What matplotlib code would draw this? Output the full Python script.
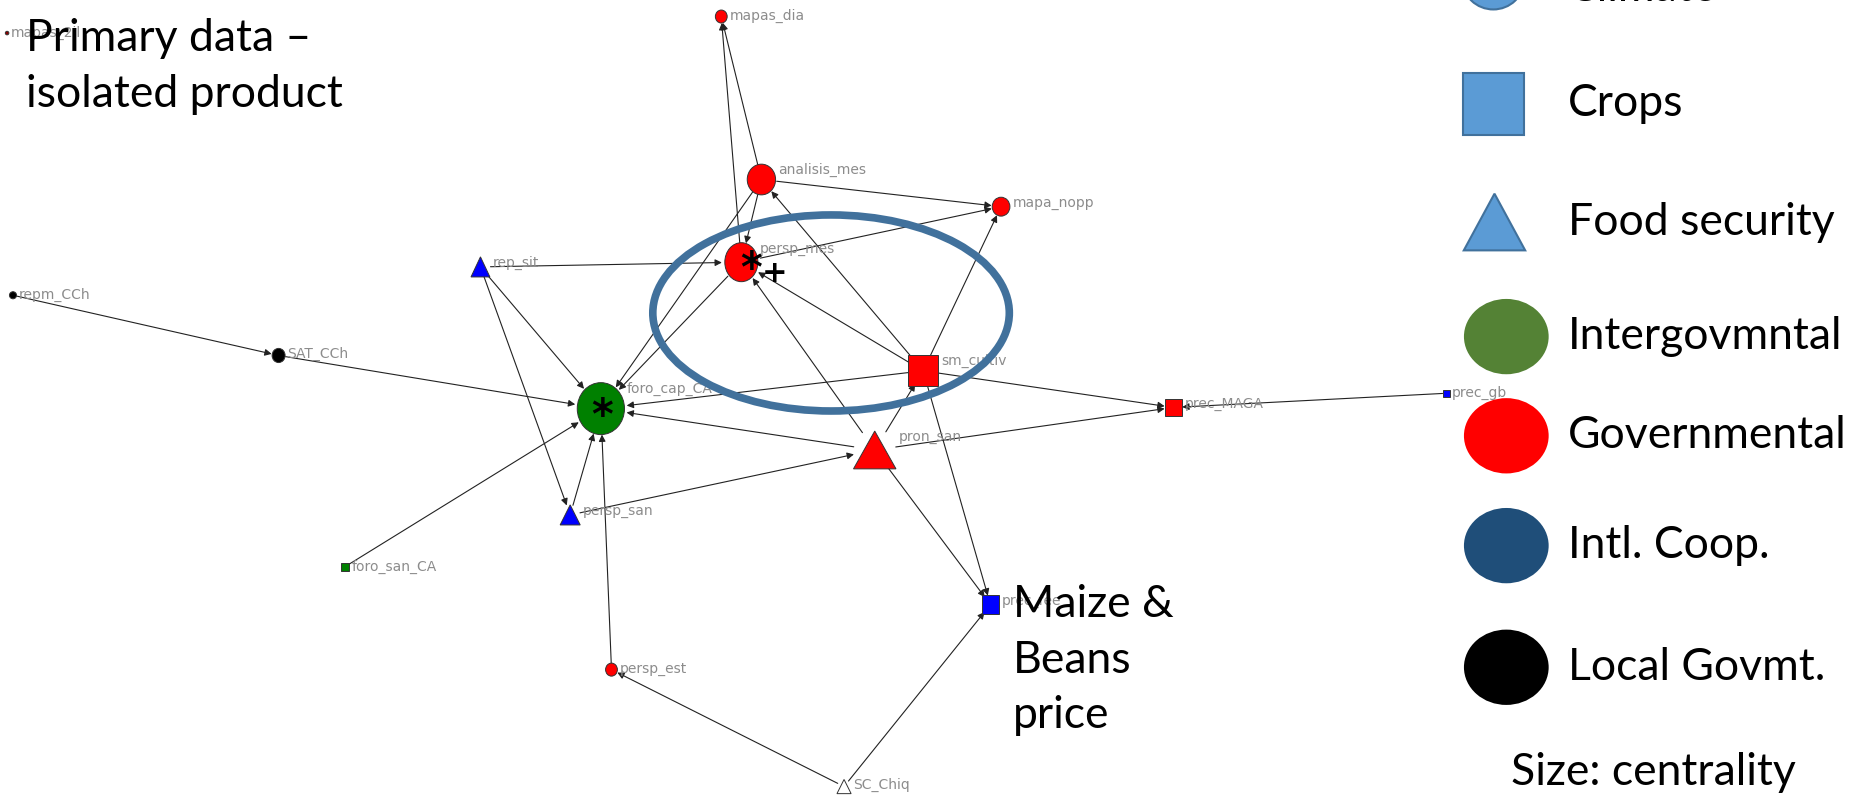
import matplotlib
matplotlib.use("Agg")
import matplotlib.pyplot as plt
from matplotlib.patches import Ellipse, Rectangle, Polygon, FancyArrowPatch

# Network data (layout positions, in picture pixels).

names = ['mapas_2il', 'mapas_dia', 'analisis_mes', 'mapa_nopp', 'persp_mes', 'rep_sit',
         'repm_CCh', 'SAT_CCh', 'foro_cap_CA', 'sm_cultiv', 'prec_MAGA', 'prec_gb',
         'pron_san', 'persp_san', 'foro_san_CA', 'prec_fee', 'persp_est', 'SC_Chiq']
node_x = [6, 611, 645, 848, 628, 407, 11, 236, 509, 782, 994, 1225, 741, 483, 292, 839, 518, 715]
node_y = [28, 14, 152, 175, 222, 226, 250, 301, 346, 314, 345, 333, 381, 436, 480, 512, 567, 666]
shapes = ['o', 'o', 'o', 'o', 'o', '^', 'o', 'o', 'o', 's', 's', 's', '^', '^', 's', 's', 'o', '^']
colors = ['#8b0000', 'red', 'red', 'red', 'red', 'blue', 'black', 'black', 'green', 'red', 'red', 'blue',
          'red', 'blue', 'green', 'blue', 'red', 'white']
widths = [3, 10, 24, 15, 28, 16, 6, 11, 40, 26, 15, 6, 36, 17, 7, 15, 10, 12]
heights = [3, 11, 26, 16, 33, 17, 6, 12, 44, 26, 15, 6, 32, 17, 7, 16, 11, 12]
starred = {'persp_mes': 8, 'foro_cap_CA': 1}

edges = [('repm_CCh', 'SAT_CCh'), ('SAT_CCh', 'foro_cap_CA'), ('foro_san_CA', 'foro_cap_CA'),
         ('rep_sit', 'foro_cap_CA'), ('rep_sit', 'persp_san'), ('rep_sit', 'persp_mes'),
         ('persp_san', 'foro_cap_CA'), ('persp_est', 'foro_cap_CA'), ('persp_mes', 'foro_cap_CA'),
         ('analisis_mes', 'foro_cap_CA'), ('sm_cultiv', 'foro_cap_CA'), ('pron_san', 'foro_cap_CA'),
         ('persp_san', 'pron_san'), ('pron_san', 'prec_MAGA'), ('sm_cultiv', 'prec_MAGA'),
         ('prec_gb', 'prec_MAGA'), ('pron_san', 'sm_cultiv'), ('sm_cultiv', 'prec_fee'),
         ('pron_san', 'prec_fee'), ('SC_Chiq', 'prec_fee'), ('SC_Chiq', 'persp_est'),
         ('sm_cultiv', 'mapa_nopp'), ('persp_mes', 'mapa_nopp'), ('analisis_mes', 'mapa_nopp'),
         ('persp_mes', 'mapas_dia'), ('analisis_mes', 'mapas_dia'), ('analisis_mes', 'persp_mes'),
         ('sm_cultiv', 'analisis_mes'), ('sm_cultiv', 'persp_mes'), ('pron_san', 'persp_mes')]

legend_labels = ['Climate', 'Crops', 'Food security', 'Intergovmntal', 'Governmental',
                 'Intl. Coop.', 'Local Govmt.']
legend_shapes = ['o', 's', '^', 'o', 'o', 'o', 'o']
legend_colors = ['#5B9BD5', '#5B9BD5', '#5B9BD5', '#548235', '#FF0000', '#1F4E79', '#000000']
legend_y = [-17, 88, 188, 285, 369, 462, 565]

W, H = 1568, 674
PT = 1851 / 1568 * 0.72  # points per picture pixel

fig = plt.figure(figsize=(18.51, 7.96), dpi=100)
ax = fig.add_axes([0, 0, 1, 1])
ax.set_xlim(0, W)
ax.set_ylim(H, 0)
ax.axis('off')


def add_node(ax, x, y, shape, w, h, fc, ec, lw, z):
    if shape == 'o':
        p = Ellipse((x, y), w, h, facecolor=fc, edgecolor=ec, lw=lw, zorder=z)
    elif shape == 's':
        p = Rectangle((x - w / 2, y - h / 2), w, h, facecolor=fc, edgecolor=ec, lw=lw, zorder=z)
    else:
        p = Polygon([(x - w / 2, y + h / 2), (x + w / 2, y + h / 2), (x, y - h / 2)],
                    closed=True, facecolor=fc, edgecolor=ec, lw=lw, zorder=z)
    ax.add_patch(p)


idx = {n: i for i, n in enumerate(names)}

# Edges.
for a, b in edges:
    i, j = idx[a], idx[b]
    ra = max(widths[i], heights[i]) / 2 * PT
    rb = max(widths[j], heights[j]) / 2 * PT
    arr = FancyArrowPatch((node_x[i], node_y[i]), (node_x[j], node_y[j]),
                          arrowstyle='-|>', mutation_scale=10, lw=0.8, color='#222222',
                          shrinkA=ra, shrinkB=rb, zorder=2)
    ax.add_patch(arr)

# Nodes and labels (label sits at the node's upper right corner).
for i, n in enumerate(names):
    add_node(ax, node_x[i], node_y[i], shapes[i], widths[i], heights[i],
             colors[i], '#333333', 0.7, 3)
    ly = min(node_y[i], node_y[i] - heights[i] / 2 + 5)
    ax.text(node_x[i] + widths[i] / 2 + 2, ly, n, fontsize=10, color='#8c8c8c',
            ha='left', va='center', family='DejaVu Sans', zorder=4)
    if n in starred:
        ax.text(node_x[i] + starred[n], node_y[i] + 7, '*', fontsize=30, fontweight='bold',
                color='black', ha='center', va='center', zorder=5)

ax.text(656, 232, '+', fontsize=22, fontweight='bold', color='black',
        ha='center', va='center', zorder=5)

# Highlight ellipse.
ax.add_patch(Ellipse((704, 265), 302, 166, fill=False, edgecolor='#41719C', lw=5.5, zorder=6))

# Annotations.
big = dict(fontsize=32, color='black', family='Lato', ha='left', va='center', zorder=7)
ax.text(22, 33, 'Primary data –', **big)
ax.text(22, 80, 'isolated product', **big)
ax.text(858, 512, 'Maize &', **big)
ax.text(858, 559, 'Beans', **big)
ax.text(858, 606, 'price', **big)

# Legend.
for lab, shp, col, ly in zip(legend_labels, legend_shapes, legend_colors, legend_y):
    if shp == 'o':
        ec = '#41719C' if col == '#5B9BD5' else col
        wx, hy, cx = (52, 50, 1265) if col == '#5B9BD5' else (70, 62, 1276)
        add_node(ax, cx, ly, 'o', wx, hy, col, ec, 1.5, 8)
    elif shp == 's':
        add_node(ax, 1265, ly, 's', 52, 52, col, '#41719C', 1.5, 8)
    else:
        add_node(ax, 1266, ly, '^', 52, 48, col, '#41719C', 1.5, 8)
    if lab == 'Climate':
        ax.text(1328, 1.2, lab, fontsize=32, color='black', family='Lato',
                ha='left', va='baseline', zorder=7)
    else:
        ax.text(1328, ly, lab, **big)

ax.text(1401, 654, 'Size: centrality', fontsize=32, color='black', family='Lato',
        ha='center', va='center')

plt.savefig('out.png', dpi=100)
plt.close()
